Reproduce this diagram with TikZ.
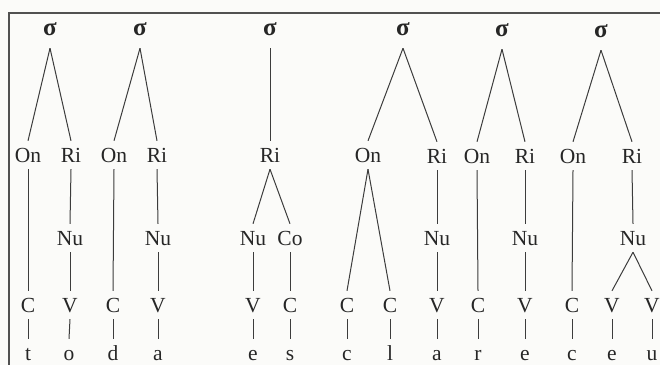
\documentclass[tikz,border=0pt]{standalone}
\usepackage{fontspec}
\setmainfont{Liberation Serif}
\usepackage{xcolor}
\usetikzlibrary{positioning}
\definecolor{ink}{HTML}{262626}
\definecolor{paper}{HTML}{FBFBF9}

\begin{document}
\begin{tikzpicture}[
  x=1pt,y=-1pt,
  font=\fontsize{21.5}{21.5}\selectfont,
  lbl/.style ={text=ink,anchor=base,inner xsep=1pt,inner ysep=7pt,
               text height=14pt,text depth=0pt},
  syl/.style ={lbl,font=\fontsize{25}{25}\selectfont\bfseries,text depth=6pt},
  branch/.style={draw=ink!90,line width=1pt},
  frame/.style ={draw=ink!80,line width=1.1pt},
]

% background and frame (cut off at right and bottom)
\fill[paper] (0,0) rectangle (660,365);
\useasboundingbox (0,0) rectangle (660,365);
\coordinate (Ftop) at (660,13);
\coordinate (Fcorner) at (9,13);
\coordinate (Fbot) at (9,365);
\draw[frame] (Ftop) -- (Fcorner) -- (Fbot);

% ===================== tree 1: t o =====================
\node[syl] (S1)  at (50,35)  {σ};
\node[lbl] (On1) at (28,162) {On};
\node[lbl] (Ri1) at (71,162) {Ri};
\node[lbl] (Nu1) at (70,245) {Nu};
\node[lbl] (C1)  at (28,312) {C};
\node[lbl] (V1)  at (70,312) {V};
\node[lbl] (L1a) at (28,360) {t};
\node[lbl] (L1b) at (69,360) {o};
\draw[branch] (S1.south) -- (On1.north);
\draw[branch] (S1.south) -- (Ri1.north);
\draw[branch] (On1.south) -- (C1.north);
\draw[branch] (Ri1.south) -- (Nu1.north);
\draw[branch] (Nu1.south) -- (V1.north);
\draw[branch] (C1.south) -- (L1a.north);
\draw[branch] (V1.south) -- (L1b.north);

% ===================== tree 2: d a =====================
\node[syl] (S2)  at (140,35)  {σ};
\node[lbl] (On2) at (114,162) {On};
\node[lbl] (Ri2) at (157,162) {Ri};
\node[lbl] (Nu2) at (158,245) {Nu};
\node[lbl] (C2)  at (113,312) {C};
\node[lbl] (V2)  at (158,312) {V};
\node[lbl] (L2a) at (113,360) {d};
\node[lbl] (L2b) at (158,360) {a};
\draw[branch] (S2.south) -- (On2.north);
\draw[branch] (S2.south) -- (Ri2.north);
\draw[branch] (On2.south) -- (C2.north);
\draw[branch] (Ri2.south) -- (Nu2.north);
\draw[branch] (Nu2.south) -- (V2.north);
\draw[branch] (C2.south) -- (L2a.north);
\draw[branch] (V2.south) -- (L2b.north);

% ===================== tree 3: e s (no onset) =====================
\node[syl] (S3)  at (270,35)  {σ};
\node[lbl] (Ri3) at (270,162) {Ri};
\node[lbl] (Nu3) at (253,245) {Nu};
\node[lbl] (Co3) at (290,245) {Co};
\node[lbl] (V3)  at (253,312) {V};
\node[lbl] (C3)  at (290,312) {C};
\node[lbl] (L3a) at (253,360) {e};
\node[lbl] (L3b) at (290,360) {s};
\draw[branch] (S3.south) -- (Ri3.north);
\draw[branch] (Ri3.south) -- (Nu3.north);
\draw[branch] (Ri3.south) -- (Co3.north);
\draw[branch] (Nu3.south) -- (V3.north);
\draw[branch] (Co3.south) -- (C3.north);
\draw[branch] (V3.south) -- (L3a.north);
\draw[branch] (C3.south) -- (L3b.north);

% ===================== tree 4: c l a (branching onset) =====================
\node[syl] (S4)  at (403,35)  {σ};
\node[lbl] (On4) at (368,162) {On};
\node[lbl] (Ri4) at (437,163) {Ri};
\node[lbl] (Nu4) at (437,245) {Nu};
\node[lbl] (C4a) at (347,312) {C};
\node[lbl] (C4b) at (390,312) {C};
\node[lbl] (V4)  at (437,312) {V};
\node[lbl] (L4a) at (347,360) {c};
\node[lbl] (L4b) at (390,360) {l};
\node[lbl] (L4c) at (437,360) {a};
\draw[branch] (S4.south) -- (On4.north);
\draw[branch] (S4.south) -- (Ri4.north);
\draw[branch] (On4.south) -- (C4a.north);
\draw[branch] (On4.south) -- (C4b.north);
\draw[branch] (Ri4.south) -- (Nu4.north);
\draw[branch] (Nu4.south) -- (V4.north);
\draw[branch] (C4a.south) -- (L4a.north);
\draw[branch] (C4b.south) -- (L4b.north);
\draw[branch] (V4.south) -- (L4c.north);

% ===================== tree 5: r e =====================
\node[syl] (S5)  at (502,36)  {σ};
\node[lbl] (On5) at (477,163) {On};
\node[lbl] (Ri5) at (525,163) {Ri};
\node[lbl] (Nu5) at (525,245) {Nu};
\node[lbl] (C5)  at (478,312) {C};
\node[lbl] (V5)  at (525,312) {V};
\node[lbl] (L5a) at (478,360) {r};
\node[lbl] (L5b) at (525,360) {e};
\draw[branch] (S5.south) -- (On5.north);
\draw[branch] (S5.south) -- (Ri5.north);
\draw[branch] (On5.south) -- (C5.north);
\draw[branch] (Ri5.south) -- (Nu5.north);
\draw[branch] (Nu5.south) -- (V5.north);
\draw[branch] (C5.south) -- (L5a.north);
\draw[branch] (V5.south) -- (L5b.north);

% ===================== tree 6: c e u (branching nucleus) =====================
\node[syl] (S6)  at (601,37)  {σ};
\node[lbl] (On6) at (573,163) {On};
\node[lbl] (Ri6) at (632,163) {Ri};
\node[lbl] (Nu6) at (633,245) {Nu};
\node[lbl] (C6)  at (572,312) {C};
\node[lbl] (V6a) at (612,312) {V};
\node[lbl] (V6b) at (652,312) {V};
\node[lbl] (L6a) at (572,360) {c};
\node[lbl] (L6b) at (612,360) {e};
\node[lbl] (L6c) at (652,360) {u};
\draw[branch] (S6.south) -- (On6.north);
\draw[branch] (S6.south) -- (Ri6.north);
\draw[branch] (On6.south) -- (C6.north);
\draw[branch] (Ri6.south) -- (Nu6.north);
\draw[branch] (Nu6.south) -- (V6a.north);
\draw[branch] (Nu6.south) -- (V6b.north);
\draw[branch] (C6.south) -- (L6a.north);
\draw[branch] (V6a.south) -- (L6b.north);
\draw[branch] (V6b.south) -- (L6c.north);

\end{tikzpicture}
\end{document}
